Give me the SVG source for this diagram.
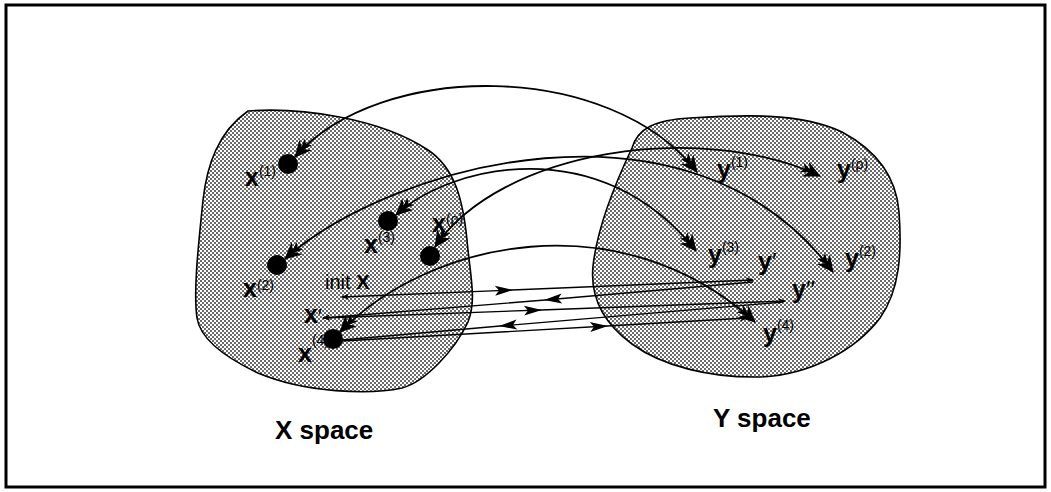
<svg xmlns="http://www.w3.org/2000/svg" width="1051" height="492" viewBox="0 0 1051 492">
<style>
.blob{fill:url(#stip);stroke:#000;stroke-width:1.6}
.dot{fill:#000}
.v{font-family:"Liberation Sans",Arial,sans-serif;font-weight:bold;font-size:25px;fill:#000}
.s{font-family:"Liberation Sans",Arial,sans-serif;font-weight:normal;font-size:14px}
.t{font-family:"Liberation Sans",Arial,sans-serif;font-weight:bold;font-size:26px;fill:#000}
.arc{fill:none;stroke:#000;stroke-width:1.8;marker-start:url(#head);marker-end:url(#head)}
.ln{fill:none;stroke:#000;stroke-width:1.3;marker-mid:url(#mid);marker-end:url(#small)}
</style>
<defs>
<pattern id="stip" width="4" height="4" patternUnits="userSpaceOnUse">
<rect width="4" height="4" fill="#fff"/>
<rect x="0" y="0" width="2" height="2" fill="#6a6a6a"/>
<rect x="2" y="2" width="2" height="2" fill="#6a6a6a"/>
</pattern>
<marker id="head" viewBox="-22 -9 24 18" refX="0" refY="0" markerWidth="24" markerHeight="18" markerUnits="userSpaceOnUse" orient="auto-start-reverse">
<path d="M1,0 L-16,-8 L-11,0 L-16,8 Z M-8,0 L-20,-5 L-17,0 L-20,5 Z" fill="#000"/>
</marker>
<marker id="small" viewBox="-9 -4 10 8" refX="0" refY="0" markerWidth="10" markerHeight="8" markerUnits="userSpaceOnUse" orient="auto-start-reverse">
<path d="M1,0 L-7,-3 L-5,0 L-7,3 Z" fill="#000"/>
</marker>
<marker id="mid" viewBox="-19 -6 20 12" refX="0" refY="0" markerWidth="20" markerHeight="12" markerUnits="userSpaceOnUse" orient="auto">
<path d="M1,0 L-17,-5 L-13,0 L-17,5 Z" fill="#000"/>
</marker>
</defs>
<rect x="0" y="0" width="1051" height="492" fill="#fff"/>
<rect x="6" y="5" width="1039" height="482" fill="none" stroke="#000" stroke-width="3"/>

<g id="x-space">
<path class="blob" d="M248,111 C300,107 380,118 428,150 C455,168 463,200 467,240 C470,275 477,300 468,322 C455,350 425,382 402,388 C370,395 305,393 258,373 C222,356 200,337 197,318 C193,290 199,240 203,200 C207,165 218,132 248,111 Z"/>
<text class="t" x="275" y="439">X space</text>
</g>
<g id="y-space">
<path class="blob" d="M632,148 C638,128 655,120 690,118 C740,115 800,112 842,132 C872,148 896,172 899,212 C902,252 900,290 880,318 C856,350 810,375 760,377 C710,378 662,366 632,344 C602,322 590,296 593,266 C597,230 612,190 632,148 Z"/>
<text class="t" x="713" y="427">Y space</text>
</g>

<g id="x1"><circle class="dot" cx="288" cy="164" r="10"/><text class="v" x="245" y="186">x<tspan class="s" y="176">(1)</tspan></text></g>
<g id="x2"><circle class="dot" cx="277" cy="265" r="10"/><text class="v" x="243" y="297">x<tspan class="s" y="290">(2)</tspan></text></g>
<g id="x3"><circle class="dot" cx="388" cy="221" r="10"/><text class="v" x="364" y="253">x<tspan class="s" y="242">(3)</tspan></text></g>
<g id="xp"><circle class="dot" cx="430" cy="256" r="10"/><text class="v" x="432" y="232">x<tspan class="s" y="224">(ρ)</tspan></text></g>
<g id="x4"><circle class="dot" cx="333" cy="339" r="10"/><text class="v" x="298" y="362">x<tspan class="s" y="345">(4)</tspan></text></g>
<g id="initx"><text class="s" x="325" y="289" style="font-size:20px">init <tspan style="font-weight:bold">X</tspan></text></g>
<g id="xprime"><text class="v" x="304" y="323">x<tspan class="s" style="font-size:20px">′</tspan></text></g>

<g id="y1"><text class="v" x="717" y="178">y<tspan class="s" y="167">(1)</tspan></text></g>
<g id="yp"><text class="v" x="837" y="178">y<tspan class="s" y="169">(ρ)</tspan></text></g>
<g id="y3"><text class="v" x="708" y="263">y<tspan class="s" y="252">(3)</tspan></text></g>
<g id="y2"><text class="v" x="845" y="267">y<tspan class="s" y="256">(2)</tspan></text></g>
<g id="yprime"><text class="v" x="758" y="270">y<tspan class="s" style="font-size:24px">′</tspan></text></g>
<g id="ydprime"><text class="v" x="792" y="298">y<tspan class="s" style="font-size:24px">′′</tspan></text></g>
<g id="y4"><text class="v" x="763" y="342">y<tspan class="s" y="330">(4)</tspan></text></g>

<g id="connectors">
<path class="arc" d="M295,157 C380,60 610,60 697,172"/>
<path class="arc" d="M285,259 C390,165 690,80 833,272"/>
<path class="arc" d="M396,215 C450,165 600,130 696,251"/>
<path class="arc" d="M435,247 C500,150 700,120 820,176"/>
<path class="arc" d="M340,332 C430,240 620,200 755,322"/>
<path class="ln" style="marker-start:url(#small)" d="M342,297 L512,290 L753,280"/>
<path class="ln" d="M753,282 L545,300 L323,318"/>
<path class="ln" d="M323,318 L541,310 L785,301"/>
<path class="ln" style="marker-end:none" d="M783,302 L500,326 L342,340"/>
<path class="ln" d="M342,341 L607,326 L747,318"/>
</g>
</svg>
